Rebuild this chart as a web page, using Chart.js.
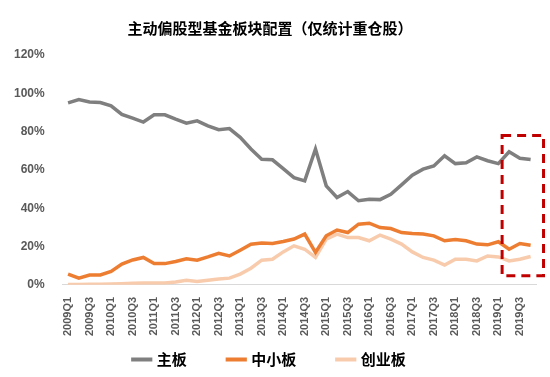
<!DOCTYPE html>
<html>
<head>
<meta charset="utf-8">
<script src="https://cdn.jsdelivr.net/npm/chart.js@4"></script>
<style>
  html, body { margin: 0; padding: 0; background: #fff; }
  #wrap { width: 550px; height: 377px; }
</style>
</head>
<body>
<div id="wrap"><canvas id="myChart"></canvas></div>
<script>
const quarters = []
for (let y = 2009; y <= 2019; y++) {
    for (let q = 1; q <= 4; q++) quarters.push(y + 'Q' + q)
}

const mainBoard = [
    95, 96.7, 95.5, 95.2, 93.5, 89, 87, 85, 88.8, 88.8,
    86.5, 84.4, 85.6, 83, 81, 81.6, 77, 70.9, 65.6, 65.3,
    60.7, 56, 54.3, 70.9, 51.7, 45.6, 48.7, 43.9, 44.7, 44.5,
    47.3, 52.2, 57.3, 60.4, 62.1, 67.4, 63.3, 63.7, 66.8, 64.8,
    63.3, 69.5, 66.1, 65.4
]
const smeBoard = [
    5.6, 3.5, 5.1, 5.2, 7, 10.8, 13, 14.3, 11.1, 11.1,
    12.2, 13.6, 12.9, 14.6, 16.5, 15.1, 18.1, 21.2, 21.8, 21.6,
    22.6, 23.9, 26.5, 16.9, 25.6, 28.6, 27.3, 31.7, 32.2, 29.9,
    29.4, 27.3, 26.8, 26.5, 25.6, 23, 23.7, 23, 21.3, 20.9,
    22.5, 18.6, 21.6, 20.7
]
const chinext = [
    0.2, 0.2, 0.3, 0.3, 0.4, 0.6, 0.8, 1, 1, 1,
    1.5, 2.4, 1.7, 2.4, 3, 3.5, 5.6, 8.7, 12.9, 13.4,
    17.2, 20.4, 18.6, 14.3, 23.9, 26.5, 24.7, 24.7, 23, 26,
    23.9, 21.3, 17.2, 14.3, 12.9, 10.3, 13.4, 13.4, 12.5, 15.1,
    14.6, 12.5, 13.4, 14.8
]
const yTicks = [0, 20, 40, 60, 80, 100, 120]

// red dashed box around 2019
const box = { from: 40, to: 43, top: 78, bottom: 4.7 }

const boxPlugin = {
    id: 'box',
    afterDatasetsDraw(chart) {
        const { ctx, scales: { x, y } } = chart
        const step = x.getPixelForValue(1) - x.getPixelForValue(0)
        const left = x.getPixelForValue(box.from) + step * 0.35
        const right = x.getPixelForValue(box.to) + step * 1.2
        const top = y.getPixelForValue(box.top)
        const bottom = y.getPixelForValue(box.bottom)
        ctx.save()
        ctx.strokeStyle = '#c00000'
        ctx.lineWidth = 3
        ctx.setLineDash([9, 6])
        ctx.strokeRect(left, top, right - left, bottom - top)
        ctx.restore()
    }
}

const ctx = document.getElementById('myChart').getContext('2d')
Chart.defaults.font.family = '"Noto Sans CJK SC", "Noto Sans", sans-serif'

const myChart = new Chart(ctx, {
    type: 'line',
    data: {
        labels: quarters,
        datasets: [
            { label: '主板', data: mainBoard, borderColor: '#7f7f7f', backgroundColor: '#7f7f7f' },
            { label: '中小板', data: smeBoard, borderColor: '#ed7d31', backgroundColor: '#ed7d31' },
            { label: '创业板', data: chinext, borderColor: '#f8cbad', backgroundColor: '#f8cbad' }
        ]
    },
    options: {
        responsive: true,
        maintainAspectRatio: false,
        animation: false,
        elements: {
            point: { radius: 0 },
            line: { borderWidth: 3.5, tension: 0 }
        },
        layout: { padding: { left: 4, right: 14, top: 4, bottom: 0 } },
        plugins: {
            title: {
                display: true,
                text: '主动偏股型基金板块配置（仅统计重仓股）',
                color: '#000',
                font: { size: 15, weight: 'bold' },
                padding: { top: 15, bottom: 18 }
            },
            legend: {
                position: 'bottom',
                labels: {
                    usePointStyle: true,
                    pointStyle: 'line',
                    boxWidth: 32,
                    color: '#000',
                    padding: 12,
                    font: { size: 15, weight: 'bold' },
                    generateLabels: chart => {
                        const items = Chart.defaults.plugins.legend.labels.generateLabels(chart)
                        items.forEach((it, i) => {
                            it.lineWidth = 4
                            if (i < items.length - 1) it.text += '\u3000\u3000'
                        })
                        return items
                    }
                }
            },
            tooltip: { enabled: false }
        },
        scales: {
            x: {
                offset: true,
                grid: { display: false },
                border: { color: '#d9d9d9', width: 1 },
                ticks: {
                    autoSkip: false,
                    maxRotation: 90,
                    minRotation: 90,
                    padding: 4,
                    color: '#595959',
                    font: { family: '"Liberation Sans", sans-serif', size: 11, weight: 'bold' },
                    callback: (v, i) => i % 2 === 0 ? quarters[i] : ''
                }
            },
            y: {
                min: 0,
                max: 120,
                afterBuildTicks: axis => { axis.ticks = yTicks.map(v => ({ value: v })) },
                grid: { display: false },
                border: { display: false },
                ticks: {
                    color: '#595959',
                    padding: 10,
                    font: { family: '"Liberation Sans", sans-serif', size: 12, weight: 'bold' },
                    callback: v => v + '%'
                }
            }
        }
    },
    plugins: [boxPlugin]
})
</script>
</body>
</html>
